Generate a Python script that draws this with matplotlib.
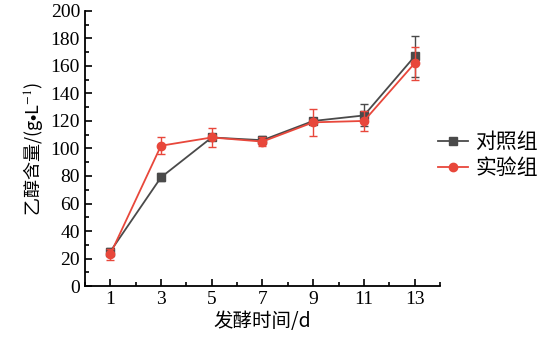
import matplotlib
matplotlib.use('Agg')
from matplotlib import pyplot as plt
from matplotlib.lines import Line2D
from matplotlib.ticker import MultipleLocator

plt.rcParams['font.family'] = ['Liberation Serif', 'Noto Sans CJK SC']
plt.rcParams['mathtext.fontset'] = 'stix'

days = [1, 3, 5, 7, 9, 11, 13]
control = [25, 79, 108, 106, 120, 124, 167]
control_err = [3, 3, 2, 3, 2, 8, 15]
treated = [23, 102, 108, 105, 119, 120, 162]
treated_err = [4, 6, 7, 3, 10, 7, 12]
labels = ['对照组', '实验组']
colors = ['#4a4a4a', '#e8473b']

fig = plt.figure(figsize=(5.44, 3.51), dpi=100)
ax = fig.add_axes([0.156, 0.185, 0.653, 0.784])

ax.errorbar(days, control, yerr=control_err, color=colors[0], marker='s', markersize=5.5,
            lw=1.3, capsize=3, elinewidth=1, zorder=3)
ax.errorbar(days, treated, yerr=treated_err, color=colors[1], marker='o', markersize=6,
            lw=1.3, capsize=3, elinewidth=1, zorder=4)

ax.set_xlim(0, 14)
ax.set_ylim(0, 200)
ax.set_xticks(days)
ax.xaxis.set_minor_locator(MultipleLocator(1))
ax.yaxis.set_major_locator(MultipleLocator(20))
ax.yaxis.set_minor_locator(MultipleLocator(10))
ax.tick_params(which='both', direction='in', width=1.2, labelsize=14)
ax.tick_params(which='major', length=5)
ax.tick_params(which='minor', length=3)
for s in ['top', 'right']:
    ax.spines[s].set_visible(False)
for s in ['left', 'bottom']:
    ax.spines[s].set_linewidth(1.3)

ax.set_xlabel('发酵时间/d', fontsize=14, labelpad=2, family=['Noto Sans CJK SC'])
ax.set_ylabel('乙醇含量/(g$\\bullet$L$^{-1}$)', fontsize=13, labelpad=4,
              family=['Noto Sans CJK SC'])

handles = [Line2D([], [], color=colors[0], marker='s', markersize=5.5, lw=1.3),
           Line2D([], [], color=colors[1], marker='o', markersize=6, lw=1.3)]
fig.legend(handles, labels, loc='center left', bbox_to_anchor=(438 / 544, 1 - 155 / 351),
           frameon=False, prop={'family': 'Noto Sans CJK SC', 'size': 15},
           handlelength=1.45, handletextpad=0.35, labelspacing=0.2,
           borderpad=0, borderaxespad=0)

fig.savefig('out.png', dpi=100)
